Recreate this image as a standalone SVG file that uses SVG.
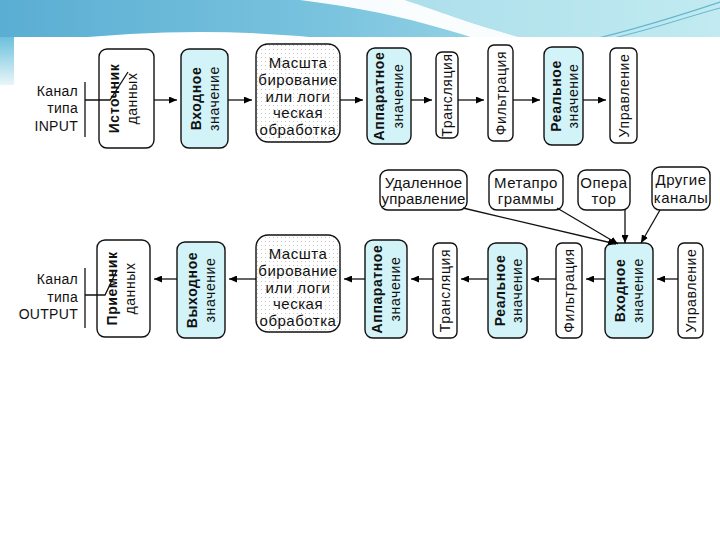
<svg xmlns="http://www.w3.org/2000/svg" width="720" height="540" viewBox="0 0 720 540">
<defs>
<linearGradient id="hdr" x1="0" y1="0" x2="1" y2="0">
<stop offset="0" stop-color="#5aaed3"/>
<stop offset="0.45" stop-color="#79c3de"/>
<stop offset="1" stop-color="#b9e7ef"/>
</linearGradient>
<linearGradient id="strip" x1="0" y1="0" x2="0" y2="1">
<stop offset="0" stop-color="#6cc0dc"/>
<stop offset="1" stop-color="#e8f6f9"/>
</linearGradient>
<pattern id="dots" width="4" height="4" patternUnits="userSpaceOnUse">
<rect width="4" height="4" fill="#ffffff"/>
<rect x="1" y="1" width="1" height="1" fill="#c8c8c8"/>
</pattern>
<marker id="ah" markerWidth="8" markerHeight="7" refX="8" refY="3.5" orient="auto" markerUnits="userSpaceOnUse">
<path d="M0,0 L8,3.5 L0,7 z" fill="#000"/>
</marker>
<style>
.box{fill:#fff;stroke:#111;stroke-width:1.4}
.cy{fill:#d2f3f7;stroke:#111;stroke-width:1.4}
.dt{fill:url(#dots);stroke:#111;stroke-width:1.4}
text{font-family:"Liberation Sans",Arial,sans-serif;font-size:15px;fill:#111;letter-spacing:0.5px}
.v text{font-size:14px;letter-spacing:0.6px}
.lbl{font-size:14px;letter-spacing:0.3px}
.b{font-weight:bold}
.m{text-anchor:middle;dominant-baseline:central}
.r{text-anchor:end;dominant-baseline:central}
.ln{stroke:#111;stroke-width:1.3;fill:none}
.ar{stroke:#111;stroke-width:1.3;fill:none;marker-end:url(#ah)}
</style>
</defs>

<!-- background & header -->
<rect x="0" y="0" width="720" height="540" fill="#ffffff"/>
<rect x="0" y="0" width="720" height="40" fill="url(#hdr)"/>
<path d="M300 0 C380 10 430 24 480 40 L530 40 C470 24 430 8 405 0 Z" fill="#ffffff" opacity="0.95"/>
<path d="M405 0 C430 8 470 24 530 40 L720 40 L720 0 Z" fill="#c6edf2" opacity="0.6"/>
<path d="M590 40 C640 28 690 12 720 2" stroke="#3f9fc0" stroke-width="1.2" fill="none" opacity="0.7"/>
<path d="M605 40 C650 30 690 16 720 8" stroke="#2f94b8" stroke-width="1" fill="none" opacity="0.6"/>
<path d="M60 40 Q200 24 340 40 Z" fill="#ffffff"/>
<rect x="0" y="37" width="14" height="48" fill="url(#strip)"/>
<rect x="14" y="37" width="706" height="313" fill="#ffffff"/>

<!-- channel labels -->
<g id="input-label">
<text class="r lbl" x="78" y="91">Канал</text>
<text class="r lbl" x="78" y="108">типа</text>
<text class="r lbl" x="78" y="126">INPUT</text>
<line class="ln" x1="85" y1="82" x2="85" y2="137"/>
</g>
<g id="output-label">
<text class="r lbl" x="78" y="279">Канал</text>
<text class="r lbl" x="78" y="297">типа</text>
<text class="r lbl" x="78" y="314">OUTPUT</text>
<line class="ln" x1="85" y1="268" x2="85" y2="328"/>
</g>

<!-- top row -->
<g id="src" class="v">
<rect class="box" x="99" y="49" width="55" height="99" rx="8"/>
<g transform="translate(126.5,98.5) rotate(-90)"><text class="m b" x="0" y="-13">Источник</text><text class="m" x="0" y="5">данных</text></g>
</g>
<g id="in-val" class="v">
<rect class="cy" x="181" y="49" width="47" height="99" rx="8"/>
<g transform="translate(204.5,98.5) rotate(-90)"><text class="m b" x="0" y="-9">Входное</text><text class="m" x="0" y="9">значение</text></g>
</g>
<g id="scale-top">
<rect class="dt" x="256" y="44" width="84" height="98" rx="12"/>
<text class="m" x="298" y="62">Масшта</text>
<text class="m" x="298" y="79">бирование</text>
<text class="m" x="298" y="96">или логи</text>
<text class="m" x="298" y="112">ческая</text>
<text class="m" x="298" y="129">обработка</text>
</g>
<g id="hw-top" class="v">
<rect class="cy" x="367" y="48" width="44" height="96" rx="8"/>
<g transform="translate(389,96) rotate(-90)"><text class="m b" x="0" y="-10">Аппаратное</text><text class="m" x="0" y="9">значение</text></g>
</g>
<g id="trans-top" class="v">
<rect class="box" x="436" y="52" width="22" height="86" rx="6"/>
<g transform="translate(447,95) rotate(-90)"><text class="m" x="0" y="0">Трансляция</text></g>
</g>
<g id="filt-top" class="v">
<rect class="box" x="488" y="45" width="25" height="96" rx="6"/>
<g transform="translate(500.5,93) rotate(-90)"><text class="m" x="0" y="0">Фильтрация</text></g>
</g>
<g id="real-top" class="v">
<rect class="cy" x="544" y="47" width="39" height="98" rx="8"/>
<g transform="translate(563.5,96) rotate(-90)"><text class="m b" x="0" y="-8">Реальное</text><text class="m" x="0" y="9">значение</text></g>
</g>
<g id="ctrl-top" class="v">
<rect class="box" x="610" y="48" width="27" height="95" rx="6"/>
<g transform="translate(623.5,95.5) rotate(-90)"><text class="m" x="0" y="0">Управление</text></g>
</g>

<!-- middle sources -->
<g id="remote">
<rect class="box" x="380" y="170" width="87" height="40" rx="8"/>
<text class="m" x="423.5" y="182" style="letter-spacing:0.2px">Удаленное</text>
<text class="m" x="423.5" y="198" style="letter-spacing:0.2px">управление</text>
</g>
<g id="meta">
<rect class="box" x="489" y="170" width="74" height="40" rx="8"/>
<text class="m" x="526" y="182">Метапро</text>
<text class="m" x="526" y="198">граммы</text>
</g>
<g id="oper">
<rect class="box" x="578" y="170" width="52" height="40" rx="8"/>
<text class="m" x="604" y="182">Опера</text>
<text class="m" x="604" y="198">тор</text>
</g>
<g id="other">
<rect class="box" x="652" y="167" width="58" height="43" rx="8"/>
<text class="m" x="681" y="179">Другие</text>
<text class="m" x="681" y="197">каналы</text>
</g>

<!-- bottom row -->
<g id="sink" class="v">
<rect class="box" x="97" y="240" width="53" height="97" rx="8"/>
<g transform="translate(123.5,288.5) rotate(-90)"><text class="m b" x="0" y="-12">Приемник</text><text class="m" x="0" y="6">данных</text></g>
</g>
<g id="out-val" class="v">
<rect class="cy" x="177" y="242" width="48" height="96" rx="8"/>
<g transform="translate(201,290) rotate(-90)"><text class="m b" x="0" y="-9">Выходное</text><text class="m" x="0" y="9">значение</text></g>
</g>
<g id="scale-bot">
<rect class="dt" x="256" y="235" width="84" height="97" rx="12"/>
<text class="m" x="298" y="253">Масшта</text>
<text class="m" x="298" y="270">бирование</text>
<text class="m" x="298" y="287">или логи</text>
<text class="m" x="298" y="303">ческая</text>
<text class="m" x="298" y="320">обработка</text>
</g>
<g id="hw-bot" class="v">
<rect class="cy" x="365" y="240" width="42" height="98" rx="8"/>
<g transform="translate(386,289) rotate(-90)"><text class="m b" x="0" y="-9">Аппаратное</text><text class="m" x="0" y="9">значение</text></g>
</g>
<g id="trans-bot" class="v">
<rect class="box" x="433" y="243" width="24" height="95" rx="6"/>
<g transform="translate(445,290.5) rotate(-90)"><text class="m" x="0" y="0">Трансляция</text></g>
</g>
<g id="real-bot" class="v">
<rect class="cy" x="488" y="243" width="39" height="95" rx="8"/>
<g transform="translate(507.5,290.5) rotate(-90)"><text class="m b" x="0" y="-8">Реальное</text><text class="m" x="0" y="9">значение</text></g>
</g>
<g id="filt-bot" class="v">
<rect class="box" x="556" y="243" width="26" height="95" rx="6"/>
<g transform="translate(569,290.5) rotate(-90)"><text class="m" x="0" y="0">Фильтрация</text></g>
</g>
<g id="in-bot" class="v">
<rect class="cy" x="605" y="243" width="48" height="95" rx="8"/>
<g transform="translate(629,290.5) rotate(-90)"><text class="m b" x="0" y="-9">Входное</text><text class="m" x="0" y="9">значение</text></g>
</g>
<g id="ctrl-bot" class="v">
<rect class="box" x="678" y="243" width="25" height="95" rx="6"/>
<g transform="translate(690.5,290.5) rotate(-90)"><text class="m" x="0" y="0">Управление</text></g>
</g>

<!-- connectors -->
<g id="connectors">
<path class="ln" d="M85 100 L110 100 L128 72"/>
<path class="ln" d="M85 295 L105 295 L117 270"/>
<line class="ar" x1="154" y1="100" x2="177" y2="100"/>
<line class="ar" x1="228" y1="100" x2="252" y2="100"/>
<line class="ar" x1="340" y1="100" x2="363" y2="100"/>
<line class="ar" x1="411" y1="100" x2="432" y2="100"/>
<line class="ar" x1="458" y1="100" x2="484" y2="100"/>
<line class="ar" x1="513" y1="100" x2="540" y2="100"/>
<line class="ar" x1="583" y1="100" x2="606" y2="100"/>

<line class="ar" x1="463" y1="208" x2="616" y2="244"/>
<line class="ar" x1="557" y1="208" x2="618" y2="244"/>
<line class="ar" x1="625" y1="210" x2="625" y2="243"/>
<line class="ar" x1="660" y1="210" x2="641" y2="243"/>

<line class="ar" x1="177" y1="279" x2="154" y2="279"/>
<line class="ar" x1="256" y1="279" x2="229" y2="279"/>
<line class="ar" x1="365" y1="279" x2="344" y2="279"/>
<line class="ar" x1="433" y1="279" x2="411" y2="279"/>
<line class="ar" x1="488" y1="279" x2="461" y2="279"/>
<line class="ar" x1="556" y1="279" x2="531" y2="279"/>
<line class="ar" x1="605" y1="279" x2="586" y2="279"/>
<line class="ar" x1="678" y1="279" x2="657" y2="279"/>
</g>
</svg>
